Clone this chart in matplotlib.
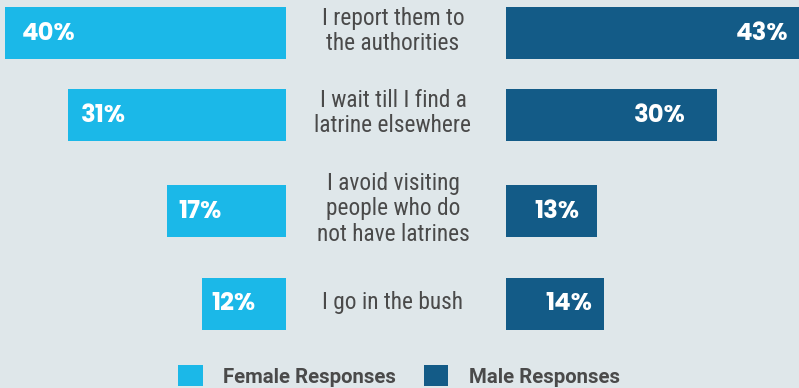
import matplotlib
matplotlib.use('Agg')
import matplotlib.pyplot as plt
import matplotlib.transforms as mtransforms

# data
answers = ["I report them to\nthe authorities",
           "I wait till I find a\nlatrine elsewhere",
           "I avoid visiting\npeople who do\nnot have latrines",
           "I go in the bush"]
female = [40, 31, 17, 12]
male = [43, 30, 13, 14]

# layout (pixels)
W, H = 799, 388
PX = 7.025                  # pixels per percent
row_y = [33, 115, 211, 304]
bar_h = 52
pad_f = [17, 13, 12, 10]    # label inset from bar end
pad_m = [20, 31, 18, 12]
BG = '#dfe7ea'
C_F = '#1bb8e8'
C_M = '#135b87'
TXT = '#4a4a4a'

fig = plt.figure(figsize=(W / 100, H / 100), dpi=100)
fig.patch.set_facecolor(BG)

axl = fig.add_axes([0, 0, 286 / W, 1])
axr = fig.add_axes([506 / W, 0, 293 / W, 1])
for ax in (axl, axr):
    ax.set_facecolor('none')
    ax.set_ylim(H, 0)
    ax.axis('off')
axl.set_xlim(286 / PX, 0)
axr.set_xlim(0, 293 / PX)

bf = axl.barh(row_y, female, height=bar_h, color=C_F, label='Female Responses')
bm = axr.barh(row_y, male, height=bar_h, color=C_M, label='Male Responses')

for y, v, p in zip(row_y, female, pad_f):
    axl.text(v - p / PX, y + 1, f'{v}%', color='white', fontsize=17.5,
             fontweight='bold', family='Poppins', ha='left', va='center')
for y, v, p in zip(row_y, male, pad_m):
    axr.text(v - p / PX, y + 1, f'{v}%', color='white', fontsize=17.5,
             fontweight='bold', family='Poppins', ha='right', va='center')

tr = mtransforms.blended_transform_factory(fig.transFigure, axl.transData)
for y, lab in zip(row_y, answers):
    fig.text(393 / W, y - 2, lab, transform=tr, ha='center', va='center',
             fontsize=16.8, color=TXT, family='Roboto Condensed', linespacing=1.15)

leg = fig.legend(handles=[bf, bm], loc='center', ncol=2,
                 bbox_to_anchor=(399 / W, 12 / H), frameon=False,
                 prop={'family': 'Roboto', 'weight': 'bold', 'size': 14.7},
                 handlelength=1.2, handleheight=1.2, handletextpad=1.0,
                 columnspacing=1.35, labelcolor=TXT)

fig.savefig('out.png', dpi=100, facecolor=BG)
